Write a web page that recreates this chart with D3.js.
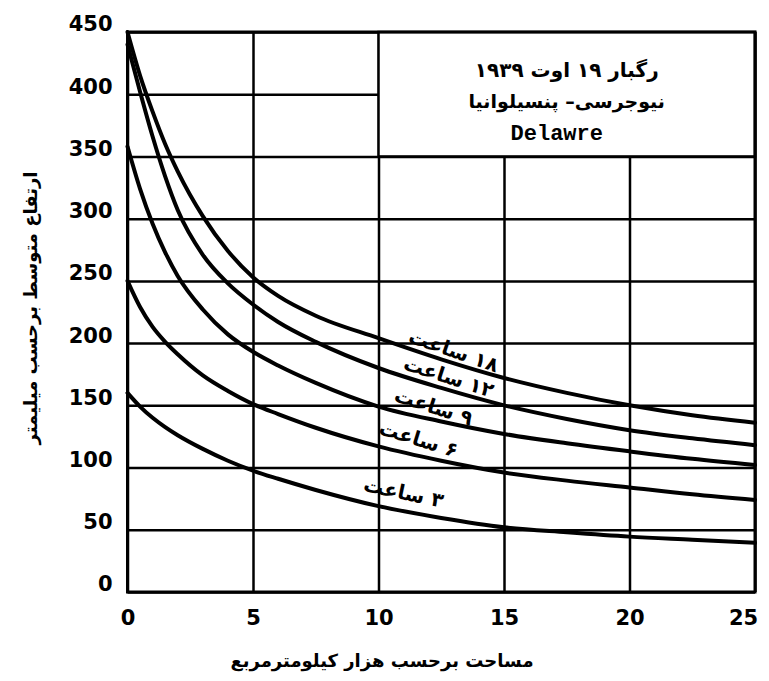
<!DOCTYPE html>
<html>
<head>
<meta charset="utf-8">
<script src="https://cdn.jsdelivr.net/npm/d3@7"></script>
<style>
  body { margin: 0; background: #fff; }
  svg { display: block; }
</style>
</head>
<body>
<svg id="chart" width="769" height="681"></svg>
<script>
// Storm of 19 August 1939 — depth–area curves for several durations
const areaK = [0, 0.5, 1, 1.5, 2, 3, 4, 5, 6, 7.5, 10, 12.5, 15, 17.5, 20, 22.5, 25];   // thousand km²
const depth3h  = [160, 149, 140, 132.5, 126, 115, 105.5, 97.5, 91, 82, 69, 59.5, 52, 48, 44.5, 42, 39.5];
const depth6h  = [250, 229, 213, 201, 191, 174, 161.5, 151, 143, 132, 117, 105.5, 96, 89.5, 84, 78.5, 74];
const depth9h  = [358, 324, 296, 273, 254, 227, 207, 193, 182, 168, 149, 137, 127, 119.5, 113, 107, 102];
const depth12h = [440, 402, 366, 334, 307, 271, 248, 231, 217, 201, 180, 164, 150, 139, 130, 123.5, 118];
const depth18h = [450, 415, 386, 360, 338, 302, 274, 253, 238, 222, 204, 187, 172, 160, 150, 142, 136];
const durationLabels = ["۳ ساعت", "۶ ساعت", "۹ ساعت", "۱۲ ساعت", "۱۸ ساعت"];
const xTicks = [0, 5, 10, 15, 20, 25];
const yTicks = [0, 50, 100, 150, 200, 250, 300, 350, 400, 450];
const titleLines = ["رگبار ۱۹ اوت ۱۹۳۹", "نیوجرسی– پنسیلوانیا", "Delawre"];
const xTitle = "مساحت برحسب هزار کیلومترمربع";
const yTitle = "ارتفاع متوسط برحسب میلیمتر";

// label placement along each curve: [area, depth, rotation°]
const labelSpots = [[11.0, 80, 12], [11.6, 123, 17], [12.2, 149, 18], [12.8, 173, 18], [13.0, 194, 19]];

const svg = d3.select("#chart");
const x = d3.scaleLinear().domain([0, 25]).range([127.5, 755]);
const y = d3.scaleLinear().domain([0, 450]).range([592, 32]);
const fa = "'DejaVu Sans', sans-serif";

svg.append("rect").attr("width", 769).attr("height", 681).attr("fill", "#fff");

// grid lines
svg.append("g")
  .attr("transform", `translate(0,${y(0)})`)
  .call(d3.axisBottom(x).tickValues(xTicks).tickSize(-(y(0) - y(450))).tickFormat(""))
  .call(g => g.select(".domain").remove())
  .call(g => g.selectAll("line").attr("stroke", "#000").attr("stroke-width", 2.5));
svg.append("g")
  .attr("transform", `translate(${x(0)},0)`)
  .call(d3.axisLeft(y).tickValues(yTicks).tickSize(-(x(25) - x(0))).tickFormat(""))
  .call(g => g.select(".domain").remove())
  .call(g => g.selectAll("line").attr("stroke", "#000").attr("stroke-width", 2.5));

// tick labels
svg.append("g")
  .attr("transform", `translate(${x(0)},0)`)
  .call(d3.axisLeft(y).tickValues(yTicks).tickSize(0).tickPadding(15))
  .call(g => g.select(".domain").remove())
  .call(g => g.selectAll("text")
    .attr("font-family", fa).attr("font-weight", "bold")
    .attr("font-size", 21).attr("fill", "#000").attr("dy", "-0.05em"));
svg.append("g")
  .attr("transform", `translate(0,${y(0)})`)
  .call(d3.axisBottom(x).tickValues(xTicks).tickSize(0).tickPadding(18))
  .call(g => g.select(".domain").remove())
  .call(g => g.selectAll("text")
    .attr("font-family", fa).attr("font-weight", "bold")
    .attr("font-size", 21).attr("fill", "#000")
    .attr("dx", d => d === 25 ? -12 : 0));

// heading box in the upper right
svg.append("rect")
  .attr("x", x(10)).attr("y", y(450))
  .attr("width", x(25) - x(10)).attr("height", y(350) - y(450))
  .attr("fill", "#fff").attr("stroke", "#000").attr("stroke-width", 2.5);
const boxCx = (x(10) + x(25)) / 2;
svg.append("text").attr("x", boxCx).attr("y", 70)
  .attr("text-anchor", "middle").attr("dominant-baseline", "central").attr("direction", "rtl")
  .attr("font-family", fa).attr("font-weight", "bold").attr("font-size", 20)
  .text(titleLines[0]);
svg.append("text").attr("x", boxCx).attr("y", 101)
  .attr("text-anchor", "middle").attr("dominant-baseline", "central").attr("direction", "rtl")
  .attr("font-family", fa).attr("font-weight", "bold").attr("font-size", 19)
  .text(titleLines[1]);
svg.append("text").attr("x", boxCx - 10).attr("y", 134)
  .attr("text-anchor", "middle").attr("dominant-baseline", "central")
  .attr("font-family", "'Liberation Mono', monospace").attr("font-weight", "bold").attr("font-size", 22)
  .text(titleLines[2]);

// depth–area curves
const series = [depth3h, depth6h, depth9h, depth12h, depth18h];
const line = d3.line().x(d => x(d[0])).y(d => y(d[1])).curve(d3.curveMonotoneX);
svg.append("g").selectAll("path").data(series).join("path")
  .attr("d", s => line(areaK.map((a, i) => [a, s[i]])))
  .attr("fill", "none").attr("stroke", "#000").attr("stroke-width", 4)
  .attr("stroke-linecap", "round");

// duration labels
svg.append("g").selectAll("text").data(durationLabels).join("text")
  .attr("transform", (d, i) => `translate(${x(labelSpots[i][0])},${y(labelSpots[i][1])}) rotate(${labelSpots[i][2]})`)
  .attr("text-anchor", "middle").attr("dominant-baseline", "central").attr("direction", "rtl")
  .attr("font-family", fa).attr("font-weight", "bold").attr("font-size", 20)
  .text(d => d);

// outer frame
svg.append("rect")
  .attr("x", x(0)).attr("y", y(450))
  .attr("width", x(25) - x(0)).attr("height", y(0) - y(450))
  .attr("fill", "none").attr("stroke", "#000").attr("stroke-width", 3);

// axis titles
svg.append("text").attr("x", 382).attr("y", 660)
  .attr("text-anchor", "middle").attr("dominant-baseline", "central").attr("direction", "rtl")
  .attr("font-family", fa).attr("font-weight", "bold").attr("font-size", 18)
  .text(xTitle);
svg.append("text")
  .attr("transform", "translate(30,308) rotate(-90)")
  .attr("text-anchor", "middle").attr("dominant-baseline", "central").attr("direction", "rtl")
  .attr("font-family", fa).attr("font-weight", "bold").attr("font-size", 18)
  .text(yTitle);
</script>
</body>
</html>
